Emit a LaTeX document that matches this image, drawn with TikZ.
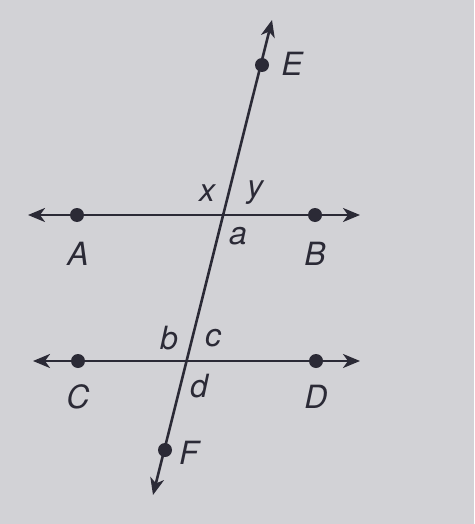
\documentclass[tikz,border=0pt]{standalone}
\usepackage{fontspec}
\setmainfont{TeX Gyre Heros}
\usetikzlibrary{arrows.meta}
\definecolor{ink}{HTML}{2B2A36}
\definecolor{paper}{HTML}{D2D2D6}

\begin{document}
\begin{tikzpicture}[x=1pt,y=-1pt,
    pt/.style={circle,fill=ink,inner sep=0pt,minimum size=14pt},
    lbl/.style={font=\fontsize{32}{32}\selectfont\itshape,text=ink,inner sep=0pt},
    ln/.style={draw=ink,line width=2.6pt,{Stealth[length=17pt,width=14pt,inset=5pt]}-{Stealth[length=17pt,width=14pt,inset=5pt]}}]
  \fill[paper] (0,0) rectangle (474,524);
  % ends of the three lines
  \coordinate (l1) at (28,215);
  \coordinate (r1) at (360,215);
  \coordinate (l2) at (33,361);
  \coordinate (r2) at (360,361);
  \coordinate (top) at (272,20);
  \coordinate (bot) at (153,495);
  \draw[ln] (l1) -- (r1);
  \draw[ln] (l2) -- (r2);
  \draw[ln] (bot) -- (top);
  % points
  \node[pt] (A) at (77,215) {};
  \node[pt] (B) at (315,215) {};
  \node[pt] (C) at (78,361) {};
  \node[pt] (D) at (316,361) {};
  \node[pt] (E) at (262,65) {};
  \node[pt] (F) at (165,450) {};
  % labels
  \node[lbl] (lA) at (78,254) {A};
  \node[lbl] (lB) at (315,254) {B};
  \node[lbl] (lC) at (78,397) {C};
  \node[lbl] (lD) at (316,397) {D};
  \node[lbl] (lE) at (292,64) {E};
  \node[lbl] (lF) at (189,453) {F};
  \node[lbl] (ax) at (207,193) {x};
  \node[lbl] (ay) at (255,193) {y};
  \node[lbl] (aa) at (238,236) {a};
  \node[lbl] (ab) at (169,338) {b};
  \node[lbl] (ac) at (213,338) {c};
  \node[lbl] (ad) at (199,386) {d};
\end{tikzpicture}
\end{document}
